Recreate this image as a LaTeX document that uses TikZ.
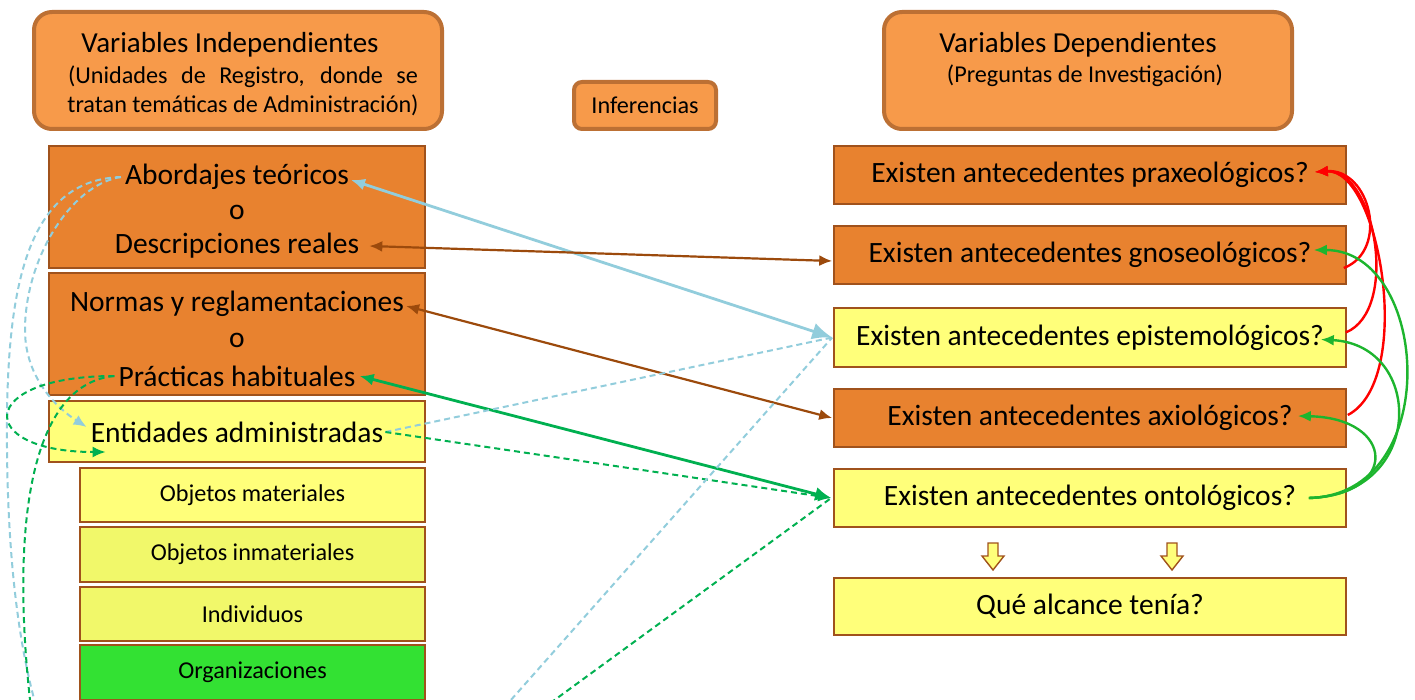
\documentclass[tikz,border=0pt]{standalone}
\usepackage{fontspec}
\setmainfont{Carlito}
\usetikzlibrary{arrows.meta}
\definecolor{hdrfill}{HTML}{F79A4A}
\definecolor{hdrline}{HTML}{BC7034}
\definecolor{orfill}{HTML}{E8822F}
\definecolor{brline}{HTML}{A0521C}
\definecolor{yfill}{HTML}{FFFF7A}
\definecolor{yfill2}{HTML}{F1F86A}
\definecolor{gfill}{HTML}{33E133}
\definecolor{lblue}{HTML}{92CDDC}
\definecolor{brarrow}{HTML}{9C4A0C}
\definecolor{garrow}{HTML}{00B050}
\definecolor{garrow2}{HTML}{1DB52E}
\begin{document}
\begin{tikzpicture}[x=1pt,y=-1pt,
  hdr/.style={draw=hdrline, fill=hdrfill, line width=4pt, rounded corners=18pt, inner sep=0pt},
  obox/.style={draw=brline, fill=orfill, line width=1.6pt, inner sep=0pt},
  ybox/.style={draw=brline, fill=yfill, line width=1.6pt, inner sep=0pt},
  big/.style={font=\fontsize{29.5}{34}\selectfont, inner sep=0pt},
  hbig/.style={font=\fontsize{29}{34}\selectfont, inner sep=0pt},
  sml/.style={font=\fontsize{24.2}{28}\selectfont, inner sep=0pt},
  arr/.style={-{Latex[length=13pt,width=11pt]}},
  barr/.style={{Latex[length=13pt,width=11pt]}-{Latex[length=13pt,width=11pt]}},
  dsh/.style={dash pattern=on 6pt off 4pt, line width=2pt},
  downarr/.style={draw=brline, fill=yfill, line width=1.4pt, line join=miter}
]
\useasboundingbox (0,0) rectangle (1415,700);
\clip (0,0) rectangle (1415,700);

% headers
\node[hdr, minimum width=408pt, minimum height=117pt] (hl) at (238,70.5) {};
\node[hbig] (hlt) at (230,45) {Variables Independientes};
\node[sml] (hl1) at (243,77) {\makebox[350pt][s]{(Unidades de Registro, donde se}};
\node[sml] (hl2) at (243,105) {tratan temáticas de Administración)};
\node[hdr, rounded corners=8pt, minimum width=142pt, minimum height=47pt] (inf) at (645,105.5) {};
\node[sml] at (inf) {Inferencias};
\node[hdr, minimum width=408pt, minimum height=117pt] (hr) at (1088,70.5) {};
\node[hbig] (hrt) at (1078,45) {Variables Dependientes};
\node[sml] (hr1) at (1085,76) {(Preguntas de Investigación)};

% left boxes
\node[obox, minimum width=376pt, minimum height=122pt] (b1) at (237,207) {};
\node[big] (abord) at (237,177) {Abordajes teóricos};
\node[big] (o1) at (237,212) {o};
\node[big] (descr) at (237,246) {Descripciones reales};
\node[obox, minimum width=376pt, minimum height=122pt] (b2) at (237,334) {};
\node[big] (normas) at (237,304) {Normas y reglamentaciones};
\node[big] (o2) at (237,340) {o};
\node[big] (pract) at (237,376) {Prácticas habituales};
\node[ybox, minimum width=376pt, minimum height=61pt] (b3) at (237,431.5) {};
\node[big] (entid) at (237,432) {Entidades administradas};

\node[ybox, minimum width=345pt, minimum height=54pt] (s1) at (252.5,495) {};
\node[sml] at (s1) {Objetos materiales};
\node[ybox, fill=yfill2, minimum width=345pt, minimum height=55pt] (s2) at (252.5,554.5) {};
\node[sml] at (s2) {Objetos inmateriales};
\node[ybox, fill=yfill2, minimum width=345pt, minimum height=54pt] (s3) at (252.5,614) {};
\node[sml] at (s3) {Individuos};
\node[ybox, fill=gfill, minimum width=345pt, minimum height=55pt] (s4) at (252.5,672.5) {};
\node[sml] at (s4) {Organizaciones};

% right boxes
\node[obox, minimum width=512pt, minimum height=58pt, big] (praxe) at (1090,175) {Existen antecedentes praxeológicos?};
\node[obox, minimum width=512pt, minimum height=58pt, big] (gnose) at (1090,255) {Existen antecedentes gnoseológicos?};
\node[ybox, minimum width=512pt, minimum height=59pt, big] (epist) at (1090,337.5) {Existen antecedentes epistemológicos?};
\node[obox, minimum width=512pt, minimum height=58pt, big] (axio) at (1090,418) {Existen antecedentes axiológicos?};
\node[ybox, minimum width=512pt, minimum height=58pt, big] (onto) at (1090,498) {Existen antecedentes ontológicos?};
\node[ybox, minimum width=512pt, minimum height=57pt, big] (alc) at (1090,606.5) {Qué alcance tenía?};

% down arrows
\foreach \cx in {993,1172}{
  \draw[downarr] (\cx-5,543) -- (\cx+5,543) -- (\cx+5,556) -- (\cx+11,556) -- (\cx,570) -- (\cx-11,556) -- (\cx-5,556) -- cycle;
}

% named end points
\coordinate (eW) at ([xshift=-1pt]epist.west);
\coordinate (oW) at ([xshift=-2pt]onto.west);

% straight connectors
\draw[lblue, line width=2.8pt, {Latex[length=14pt,width=12pt]}-{Latex[length=20pt,width=17pt]}] ([xshift=2pt,yshift=-3pt]abord.east) -- (eW);
\draw[barr, brarrow, line width=2.2pt] ([xshift=10pt]descr.east) -- ([xshift=-1pt,yshift=-6pt]gnose.west);
\draw[barr, brarrow, line width=2.2pt] ([xshift=2pt,yshift=-2pt]normas.east) -- ([xshift=-1pt]axio.west);
\draw[green!60!black, garrow, line width=2.8pt, {Latex[length=14pt,width=12pt]}-{Latex[length=16pt,width=14pt]}] ([xshift=4pt]pract.east) -- (oW);
\draw[dsh, lblue] ([xshift=2pt]entid.east) -- (eW);
\draw[dsh, garrow, arr] ([xshift=2pt]entid.east) -- (oW);

% looping dashed connectors on the left
\draw[dsh, lblue, arr] ([xshift=-4pt]abord.west) .. controls (70,185) and (25,260) .. (25,330)
   .. controls (25,380) and (60,410) .. ([xshift=-4pt,yshift=5pt]entid.west);
\draw[dsh, lblue] ([xshift=-4pt]abord.west) .. controls (30,180) and (8,280) .. (7,420)
   .. controls (6,560) and (20,690) .. (60,770)
   .. controls (110,870) and (380,860) .. (440,780) -- (eW);
\draw[dsh, garrow, arr] ([xshift=-4pt]pract.west) .. controls (-25,376) and (-25,452) .. ([xshift=15pt,yshift=-20pt]entid.west);
\draw[dsh, garrow] ([xshift=-4pt]pract.west) .. controls (20,385) and (10,560) .. (35,740)
   .. controls (60,900) and (380,860) .. (445,780) -- (oW);

% right side curves
\coordinate (ptip) at ([xshift=-32pt,yshift=3pt]praxe.east);
\draw[red, line width=2.4pt, arr] ([xshift=-3pt,yshift=-13pt]gnose.east) .. controls (1390,250) and (1370,168) .. (ptip);
\draw[red, line width=2.4pt, arr] ([xshift=-1pt,yshift=5pt]epist.east) .. controls (1400,310) and (1375,168) .. (ptip);
\draw[red, line width=2.4pt, arr] ([xshift=1pt,yshift=3pt]axio.east) .. controls (1415,380) and (1380,168) .. (ptip);
\coordinate (os) at ([xshift=-38pt]onto.east);
\draw[garrow2, line width=2.4pt, arr] (os) .. controls (1445,495) and (1430,250) .. ([xshift=-33pt,yshift=5pt]gnose.east);
\draw[garrow2, line width=2.4pt, arr] (os) .. controls (1425,495) and (1425,345) .. ([xshift=-26pt,yshift=-2pt]epist.east);
\draw[garrow2, line width=2.4pt, arr] (os) .. controls (1400,495) and (1395,418) .. ([xshift=-49pt,yshift=2pt]axio.east);
\end{tikzpicture}
\end{document}
